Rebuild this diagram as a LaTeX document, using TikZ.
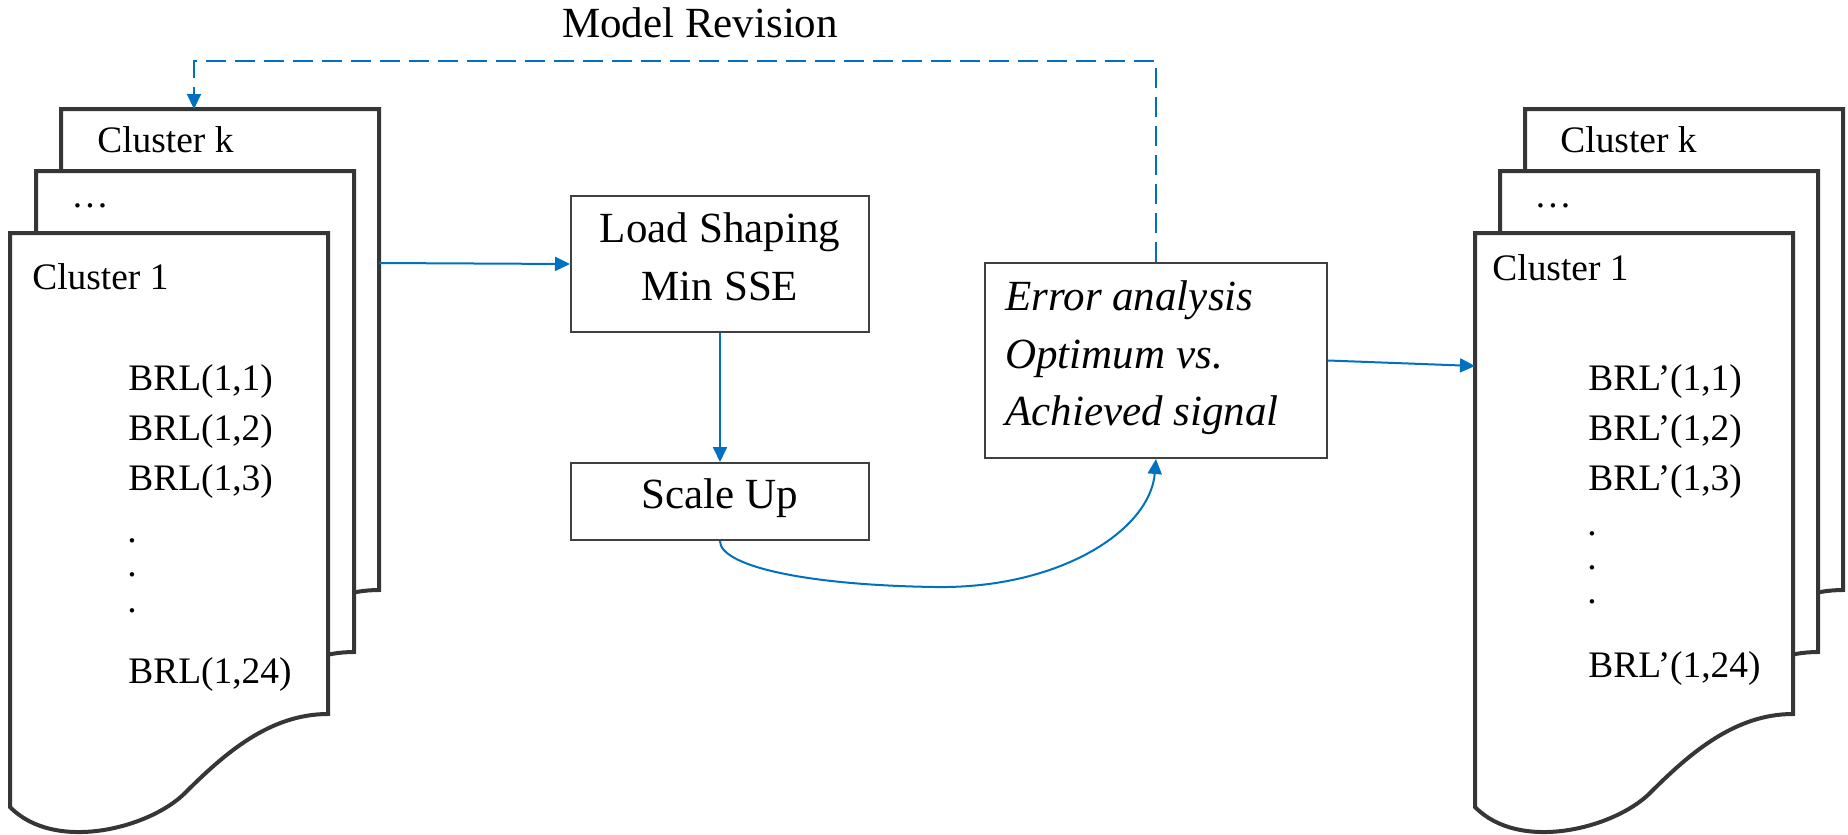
\documentclass[tikz,border=0pt]{standalone}
\usepackage{fontspec}
\setmainfont{Liberation Serif}
\usetikzlibrary{arrows.meta}
\definecolor{flowblue}{HTML}{0070C0}
\definecolor{pagegray}{HTML}{363636}
\definecolor{boxgray}{HTML}{404040}

\begin{document}
\begin{tikzpicture}[x=0.5pt,y=-0.5pt,
  pageline/.style={draw=pagegray, line width=2pt, fill=white, line join=miter},
  stepbox/.style={draw=boxgray, line width=1pt, fill=white, inner sep=0pt},
  flow/.style={draw=flowblue, line width=1pt, -{Triangle[length=7.5pt,width=7pt]}},
  revision/.style={flow, dash pattern=on 10pt off 4.5pt},
  pagetext/.style={font=\fontsize{18.7}{22}\selectfont, inner sep=0pt, anchor=base west},
  boxtext/.style={font=\fontsize{21.5}{26}\selectfont, inner sep=0pt, anchor=base},
  errtext/.style={font=\fontsize{21.5}{26}\selectfont\itshape, inner sep=0pt, anchor=base west},
  docpage/.pic={
    \path[pageline] (0,0) -- (318,0) -- (318,481)
      .. controls (260,481) and (215,520) .. (175,560)
      .. controls (140,595) and (45,620) .. (0,574) -- cycle;
  }
]
\useasboundingbox (0,0) rectangle (1848,835);

% input stack of cluster sheets
\pic at (61,109) {docpage};
\pic at (36,171) {docpage};
\pic at (10,233) {docpage};

% output stack of cluster sheets
\pic at (1525,109) {docpage};
\pic at (1500,171) {docpage};
\pic at (1475,233) {docpage};

% texts of the input stack
\node[pagetext] (lk)   at (97,152)  {Cluster k};
\node[pagetext] (ldots) at (71,207) {…};
\node[pagetext] (l1)   at (32,289)  {Cluster 1};
\node[pagetext] (lb1)  at (128,390) {BRL(1,1)};
\node[pagetext] (lb2)  at (128,440) {BRL(1,2)};
\node[pagetext] (lb3)  at (128,490) {BRL(1,3)};
\node[pagetext] (lv1)  at (127,542) {.};
\node[pagetext] (lv2)  at (127,576) {.};
\node[pagetext] (lv3)  at (127,612) {.};
\node[pagetext] (lb24) at (128,683) {BRL(1,24)};

% texts of the output stack
\node[pagetext] (rk)   at (1560,152) {Cluster k};
\node[pagetext] (rdots) at (1534,207) {…};
\node[pagetext] (r1)   at (1492,280) {Cluster 1};
\node[pagetext] (rb1)  at (1588,390) {BRL’(1,1)};
\node[pagetext] (rb2)  at (1588,440) {BRL’(1,2)};
\node[pagetext] (rb3)  at (1588,490) {BRL’(1,3)};
\node[pagetext] (rv1)  at (1587,535) {.};
\node[pagetext] (rv2)  at (1587,569) {.};
\node[pagetext] (rv3)  at (1587,603) {.};
\node[pagetext] (rb24) at (1588,677) {BRL’(1,24)};

% processing steps
\node[stepbox, minimum width=149pt, minimum height=68pt]   (load)  at (720,264)   {};
\node[stepbox, minimum width=149pt, minimum height=38.5pt] (scale) at (720,501.5) {};
\node[stepbox, minimum width=171pt, minimum height=97.5pt] (err)   at (1156,360.5) {};

\node[boxtext] (loadA)  at (720,242) {Load Shaping};
\node[boxtext] (loadB)  at (720,300) {Min SSE};
\node[boxtext] (scaleA) at (720,508) {Scale Up};
\node[errtext] (errA) at (1005,310) {Error analysis};
\node[errtext] (errB) at (1005,368) {Optimum vs.};
\node[errtext] (errC) at (1005,425) {Achieved signal};

% connector end points on the sheet stacks
\coordinate (stackout) at (379,263);
\coordinate (stackin)  at (1475,366);
\coordinate (stacktop) at (194,109);
\coordinate (revcorner) at (1156,61);

% flow
\draw[flow] (stackout) -- (load.west);
\draw[flow] (load.south) -- (scale.north);
\draw[flow] (scale.south) .. controls (720,565) and (800,585) .. (935,587)
  .. controls (1060,589) and (1150,530) .. (err.south);
\draw[flow] (err.east) -- (stackin);

% feedback loop
\draw[revision] (err.north) -- (revcorner) -| (stacktop);
\node[boxtext] (revlabel) at (700,38) {Model Revision};
\end{tikzpicture}
\end{document}
